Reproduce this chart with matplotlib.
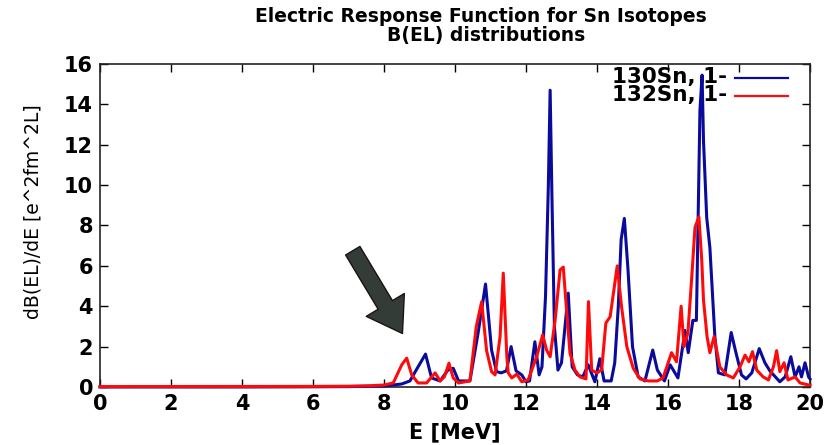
import numpy as np
import matplotlib
matplotlib.use('Agg')
import matplotlib.pyplot as plt
from matplotlib.lines import Line2D

# 130Sn, 1- (blue)
e_130 = [0.0, 4.0, 6.0, 7.0, 7.6, 8.0, 8.26, 8.5, 8.73, 8.96, 9.17, 9.34, 9.58, 9.8, 9.95,
         10.1, 10.42, 10.65, 10.86, 11.03, 11.17, 11.3, 11.45, 11.58, 11.72, 11.88, 12.0,
         12.1, 12.25, 12.37, 12.45, 12.55, 12.63, 12.68, 12.73, 12.8, 12.9, 13.0, 13.19,
         13.3, 13.45, 13.6, 13.75, 13.94, 14.08, 14.2, 14.4, 14.5, 14.6, 14.68, 14.77,
         14.87, 15.0, 15.16, 15.35, 15.57, 15.7, 15.9, 16.06, 16.28, 16.48, 16.57, 16.7,
         16.8, 16.9, 16.96, 17.0, 17.09, 17.18, 17.32, 17.42, 17.6, 17.78, 17.9, 18.07,
         18.2, 18.36, 18.57, 18.73, 18.87, 19.15, 19.3, 19.46, 19.58, 19.69, 19.76, 19.86,
         19.96, 20.0]
b_130 = [0.0, 0.0, 0.01, 0.02, 0.04, 0.06, 0.1, 0.15, 0.3, 1.0, 1.63, 0.45, 0.3, 0.84, 0.93,
         0.3, 0.3, 2.67, 5.1, 1.83, 0.76, 0.7, 0.8, 2.0, 0.8, 0.6, 0.26,
         0.3, 2.24, 0.6, 1.0, 4.5, 10.0, 14.7, 9.5, 3.0, 0.84, 1.2, 4.65,
         1.0, 0.6, 0.5, 1.1, 0.26, 1.4, 0.3, 0.3, 1.2, 4.0, 7.3, 8.35,
         5.9, 2.0, 0.5, 0.3, 1.83, 0.84, 0.3, 1.1, 0.45, 2.8, 1.7, 3.3,
         3.3, 13.7, 15.45, 12.2, 8.4, 6.9, 2.5, 0.7, 0.6, 2.7, 1.8, 0.6,
         0.4, 0.7, 1.9, 1.2, 0.8, 0.26, 0.5, 1.5, 0.5, 1.0, 0.5, 1.2,
         0.5, 0.4]

# 132Sn, 1- (red)
e_132 = [0.0, 6.0, 7.0, 7.6, 8.0, 8.26, 8.5, 8.64, 8.78, 8.96, 9.2, 9.44, 9.58, 9.7, 9.83,
         9.95, 10.1, 10.42, 10.6, 10.75, 10.89, 11.03, 11.13, 11.27, 11.36, 11.46, 11.5,
         11.6, 11.74, 11.88, 12.06, 12.3, 12.47, 12.58, 12.68, 12.82, 12.96, 13.05, 13.15,
         13.24, 13.38, 13.52, 13.69, 13.76, 13.85, 13.99, 14.13, 14.25, 14.37, 14.57,
         14.69, 14.84, 15.02, 15.21, 15.45, 15.7, 15.86, 16.1, 16.24, 16.37, 16.45, 16.56,
         16.67, 16.76, 16.87, 16.95, 17.0, 17.1, 17.18, 17.3, 17.46, 17.65, 17.84, 18.03,
         18.17, 18.28, 18.38, 18.5, 18.68, 18.83, 18.97, 19.06, 19.15, 19.27, 19.38,
         19.58, 19.72, 19.96, 20.0]
b_132 = [0.02, 0.03, 0.04, 0.06, 0.1, 0.2, 1.1, 1.43, 0.6, 0.2, 0.2, 0.7, 0.3, 0.5, 1.18,
         0.45, 0.2, 0.3, 3.0, 4.22, 1.8, 0.76, 0.6, 2.5, 5.64, 1.5, 0.7,
         0.45, 0.64, 0.26, 0.35, 1.5, 2.58, 1.83, 1.5, 3.3, 5.8, 5.94, 3.65,
         1.67, 0.84, 0.5, 0.4, 4.23, 0.84, 0.7, 0.84, 3.17, 3.48, 6.0,
         4.0, 2.0, 0.93, 0.4, 0.3, 0.3, 0.45, 1.7, 1.25, 4.0, 2.0, 2.67,
         5.46, 7.9, 8.43, 6.3, 4.3, 2.5, 1.7, 2.5, 1.0, 0.6, 0.45, 1.0,
         1.58, 1.25, 1.75, 0.84, 0.5, 0.35, 1.0, 1.8, 0.76, 1.2, 0.35,
         0.5, 0.2, 0.1, 0.1]

labels = ['130Sn, 1-', '132Sn, 1-']
colors = ['#0a0a9c', '#ff0a0a']

# arrow pointing at the low-energy strength
arrow_tail = (7.12, 6.75)
arrow_tip = (8.52, 2.65)

W, H = 839, 445
fig = plt.figure(figsize=(W / 100, H / 100), dpi=100)
ax = fig.add_axes([100 / W, 1 - 387 / H, 710 / W, 323 / H])

ax.plot(e_130, b_130, color=colors[0], lw=2.2, clip_on=False, zorder=3)
ax.plot(e_132, b_132, color=colors[1], lw=2.2, clip_on=False, zorder=3)

ax.set_xlim(0, 20)
ax.set_ylim(0, 16)
ax.set_xticks(np.arange(0, 21, 2))
ax.set_yticks(np.arange(0, 17, 2))
ax.tick_params(direction='in', length=6, width=1, top=True, right=True,
               labelsize=15, pad=5)
for lab in ax.get_xticklabels() + ax.get_yticklabels():
    lab.set_fontweight('bold')
for sp in ax.spines.values():
    sp.set_linewidth(1.2)
    sp.set_color('#222222')

# legend drawn by hand: one right aligned text block, line samples on the right
ax.text(0.883, 0.884, '\n'.join(labels), transform=ax.transAxes, ha='right',
        va='baseline', multialignment='right', linespacing=0.9,
        fontsize=15.5, fontweight='bold', zorder=2)
for c, yl in zip(colors, [0.958, 0.902]):
    ax.add_line(Line2D([0.894, 0.969], [yl, yl], transform=ax.transAxes,
                       color=c, lw=1.6))

ax.annotate('', xy=arrow_tip, xytext=arrow_tail,
            arrowprops=dict(arrowstyle='simple,head_length=1.2,head_width=1.6,tail_width=0.6',
                            mutation_scale=20, fc='#343c37', ec='#1a1212', lw=1,
                            shrinkA=0, shrinkB=0))

fig.text(481 / W, 1 - 17 / H, 'Electric Response Function for Sn Isotopes',
         ha='center', va='center', fontsize=13.5, fontweight='bold')
fig.text(486 / W, 1 - 36 / H, 'B(EL) distributions',
         ha='center', va='center', fontsize=13.5, fontweight='bold')
fig.text(33 / W, 1 - 212 / H, 'dB(EL)/dE [e^2fm^2L]', rotation=90,
         ha='center', va='center', fontsize=13.5)
fig.text(455 / W, 1 - 432 / H, 'E [MeV]', ha='center', va='center',
         fontsize=15, fontweight='bold')

fig.savefig('out.png', dpi=100)
